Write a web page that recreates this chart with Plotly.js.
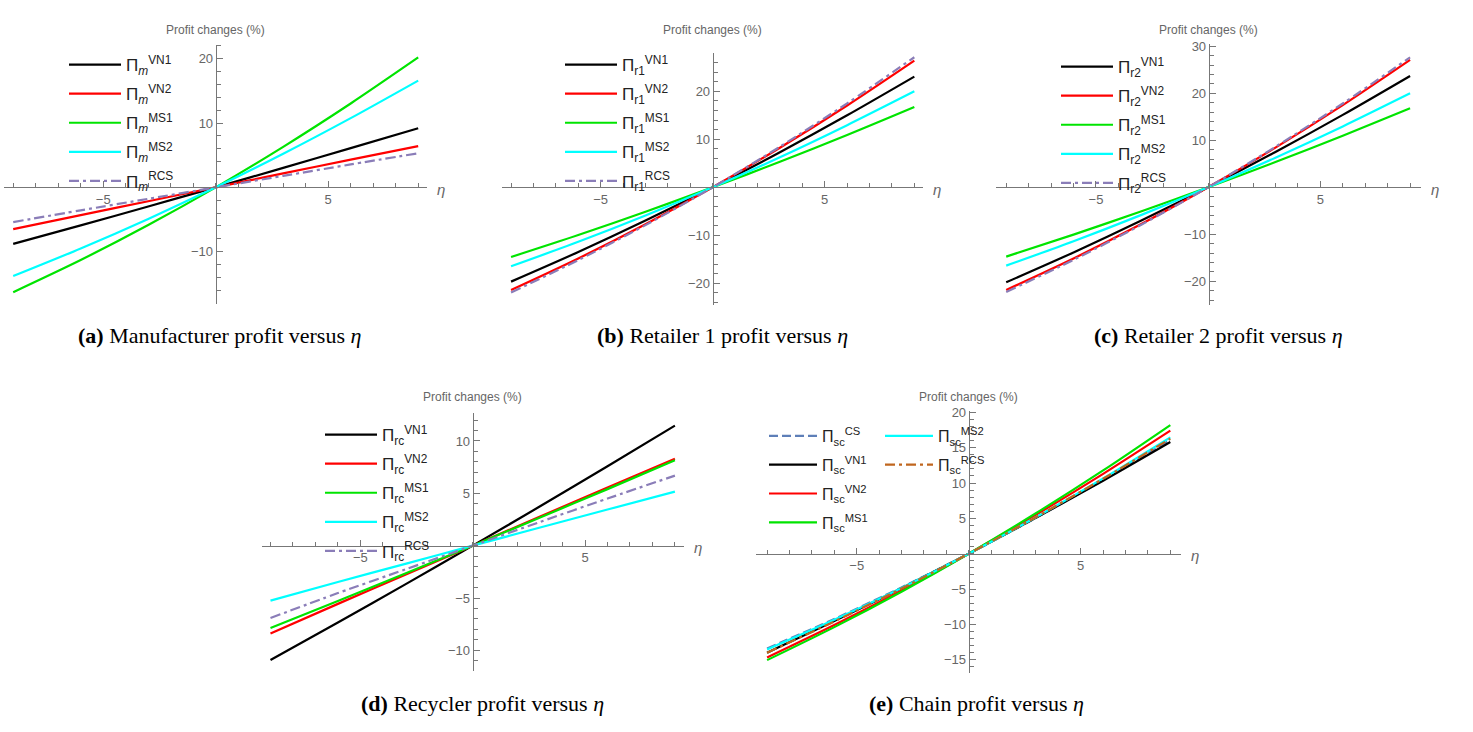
<!DOCTYPE html>
<html>
<head>
<meta charset="utf-8">
<script src="https://cdn.plot.ly/plotly-3.0.1.min.js"></script>
<style>html,body{margin:0;padding:0;background:#fff;}#chart{width:1473px;height:732px;}</style>
</head>
<body>
<div id="chart"></div>
<script>
// ---- data ----
const eta = [-9, -6, -3, 0, 3, 6, 9];

// (a) Manufacturer
const mVN1 = [-8.8, -5.92, -2.98, 0, 3.03, 6.1, 9.2];
const mVN2 = [-6.5, -4.33, -2.16, 0, 2.16, 4.3, 6.4];
const mMS1 = [-16.3, -11.3, -5.86, 0, 6.3, 13.04, 20.2];
const mMS2 = [-13.8, -9.51, -4.91, 0, 5.22, 10.76, 16.6];
const mRCS = [-5.4, -3.58, -1.79, 0, 1.78, 3.56, 5.3];

// (b) Retailer 1
const r1VN1 = [-19.65, -13.48, -6.93, 0, 7.31, 15.0, 23.06];
const r1VN2 = [-21.4, -14.83, -7.69, 0, 8.25, 17.05, 26.4];
const r1MS1 = [-14.51, -9.93, -5.09, 0, 5.33, 10.91, 16.74];
const r1MS2 = [-16.46, -11.36, -5.88, 0, 6.27, 12.95, 20.0];
const r1RCS = [-21.9, -15.17, -7.88, 0, 8.46, 17.49, 27.1];

// (c) Retailer 2
const r2VN1 = [-20.21, -13.86, -7.13, 0, 7.51, 15.41, 23.69];
const r2VN2 = [-21.84, -15.14, -7.87, 0, 8.45, 17.48, 27.1];
const r2MS1 = [-14.75, -10.06, -5.15, 0, 5.37, 10.98, 16.81];
const r2MS2 = [-16.67, -11.48, -5.92, 0, 6.30, 12.96, 20.0];
const r2RCS = [-22.27, -15.44, -8.02, 0, 8.62, 17.84, 27.66];

// (d) Recycler
const rcVN1 = [-10.92, -7.34, -3.70, 0, 3.76, 7.58, 11.46];
const rcVN2 = [-8.38, -5.56, -2.78, 0, 2.78, 5.55, 8.31];
const rcMS1 = [-7.87, -5.28, -2.66, 0, 2.69, 5.40, 8.15];
const rcMS2 = [-5.25, -3.47, -1.74, 0, 1.73, 3.45, 5.16];
const rcRCS = [-6.91, -4.53, -2.27, 0, 2.27, 4.50, 6.69];

// (e) Chain
const scCS  = [-13.4, -9.23, -4.77, 0, 5.07, 10.44, 16.1];
const scVN1 = [-14.0, -9.53, -4.87, 0, 5.07, 10.33, 15.8];
const scVN2 = [-14.67, -10.08, -5.2, 0, 5.5, 11.3, 17.41];
const scMS1 = [-15.05, -10.38, -5.37, 0, 5.72, 11.78, 18.2];
const scMS2 = [-13.54, -9.35, -4.84, 0, 5.16, 10.65, 16.46];
const scRCS = [-14.0, -9.59, -4.92, 0, 5.17, 10.6, 16.27];

// tick labels
const xTicks = [-5, 5];
const yTicksA = [-10, 10, 20];
const yTicksB = [-20, -10, 10, 20];
const yTicksC = [-20, -10, 10, 20, 30];
const yTicksD = [-10, -5, 5, 10];
const yTicksE = [-15, -10, -5, 5, 10, 15, 20];

const captions = [
  '<b>(a)</b> Manufacturer profit versus <i>η</i>',
  '<b>(b)</b> Retailer 1 profit versus <i>η</i>',
  '<b>(c)</b> Retailer 2 profit versus <i>η</i>',
  '<b>(d)</b> Recycler profit versus <i>η</i>',
  '<b>(e)</b> Chain profit versus <i>η</i>'
];

// ---- styles ----
const W = 1473, H = 732;
const px = v => v / W, py = v => 1 - v / H;
const C = {
  black: '#000000', red: '#ff0000', green: '#00e400', cyan: '#00ffff',
  purple: '#8a7db8', blue: '#5e7fb8', brown: '#c0661e'
};
const DD = '10px,4px,3px,4px';
const LW = 2.2;
const axisCol = '#777';
const tickFont = {family: 'Liberation Sans, Arial, sans-serif', size: 13, color: '#666'};

function tr(y, name, color, dash, xa, ya, leg) {
  return {
    x: eta, y: y, type: 'scatter', mode: 'lines', name: name,
    line: {color: color, width: LW, dash: dash || 'solid', shape: 'spline', smoothing: 0.8},
    xaxis: xa, yaxis: ya, legend: leg, legendgroup: name + xa
  };
}
const P = (sub, sup) => 'Π<sub>' + sub + '</sub><sup>' + sup + '</sup>';

const traces = [
  tr(mVN1, P('<i>m</i>', 'VN1'), C.black, null, 'x', 'y', 'legend'),
  tr(mVN2, P('<i>m</i>', 'VN2'), C.red, null, 'x', 'y', 'legend'),
  tr(mMS1, P('<i>m</i>', 'MS1'), C.green, null, 'x', 'y', 'legend'),
  tr(mMS2, P('<i>m</i>', 'MS2'), C.cyan, null, 'x', 'y', 'legend'),
  tr(mRCS, P('<i>m</i>', 'RCS'), C.purple, DD, 'x', 'y', 'legend'),

  tr(r1VN1, P('r1', 'VN1'), C.black, null, 'x2', 'y2', 'legend2'),
  tr(r1VN2, P('r1', 'VN2'), C.red, null, 'x2', 'y2', 'legend2'),
  tr(r1MS1, P('r1', 'MS1'), C.green, null, 'x2', 'y2', 'legend2'),
  tr(r1MS2, P('r1', 'MS2'), C.cyan, null, 'x2', 'y2', 'legend2'),
  tr(r1RCS, P('r1', 'RCS'), C.purple, DD, 'x2', 'y2', 'legend2'),

  tr(r2VN1, P('r2', 'VN1'), C.black, null, 'x3', 'y3', 'legend3'),
  tr(r2VN2, P('r2', 'VN2'), C.red, null, 'x3', 'y3', 'legend3'),
  tr(r2MS1, P('r2', 'MS1'), C.green, null, 'x3', 'y3', 'legend3'),
  tr(r2MS2, P('r2', 'MS2'), C.cyan, null, 'x3', 'y3', 'legend3'),
  tr(r2RCS, P('r2', 'RCS'), C.purple, DD, 'x3', 'y3', 'legend3'),

  tr(rcVN1, P('rc', 'VN1'), C.black, null, 'x4', 'y4', 'legend4'),
  tr(rcVN2, P('rc', 'VN2'), C.red, null, 'x4', 'y4', 'legend4'),
  tr(rcMS1, P('rc', 'MS1'), C.green, null, 'x4', 'y4', 'legend4'),
  tr(rcMS2, P('rc', 'MS2'), C.cyan, null, 'x4', 'y4', 'legend4'),
  tr(rcRCS, P('rc', 'RCS'), C.purple, DD, 'x4', 'y4', 'legend4'),

  tr(scCS,  P('sc', 'CS'),  C.blue, '9px,4px', 'x5', 'y5', 'legend5'),
  tr(scVN1, P('sc', 'VN1'), C.black, null, 'x5', 'y5', 'legend5'),
  tr(scVN2, P('sc', 'VN2'), C.red, null, 'x5', 'y5', 'legend5'),
  tr(scMS1, P('sc', 'MS1'), C.green, null, 'x5', 'y5', 'legend5'),
  tr(scMS2, P('sc', 'MS2'), C.cyan, null, 'x5', 'y5', 'legend6'),
  tr(scRCS, P('sc', 'RCS'), C.brown, DD, 'x5', 'y5', 'legend6')
];

// panel geometry in pixels
const panels = [
  {x0: 4.2, x1: 427.2, xr: [-9.4, 9.4], yt: 44.6, yb: 303.7, yr: [-18.1, 22.2], ox: 215.7, oy: 187.3, yt_: yTicksA, ym: 2, lab: 30},
  {x0: 502.1, x1: 923.3, xr: [-9.4, 9.4], yt: 53.4, yb: 304.9, yr: [-24.5, 27.9], ox: 712.7, oy: 187.3, yt_: yTicksB, ym: 2, lab: 30},
  {x0: 996.1, x1: 1421.3, xr: [-9.45, 9.5], yt: 43.5, yb: 304.8, yr: [-25.0, 30.6], ox: 1208.7, oy: 187.3, yt_: yTicksC, ym: 2, lab: 30},
  {x0: 261.5, x1: 683.9, xr: [-9.4, 9.4], yt: 412.7, yb: 671.3, yr: [-12.0, 12.7], ox: 472.7, oy: 545.7, yt_: yTicksD, ym: 1, lab: 397},
  {x0: 756.1, x1: 1181.3, xr: [-9.49, 9.49], yt: 410.9, yb: 672.5, yr: [-16.8, 20.2], ox: 968.7, oy: 553.7, yt_: yTicksE, ym: 1, lab: 397}
];

const layout = {
  width: W, height: H,
  margin: {l: 0, r: 0, t: 0, b: 0},
  paper_bgcolor: '#fff', plot_bgcolor: 'rgba(0,0,0,0)',
  showlegend: true,
  annotations: [],
  font: {family: 'Liberation Sans, Arial, sans-serif'}
};

panels.forEach((p, i) => {
  const k = i === 0 ? '' : String(i + 1);
  layout['xaxis' + k] = {
    domain: [px(p.x0), px(p.x1)], range: p.xr, anchor: 'free', position: py(p.oy),
    showline: true, linecolor: axisCol, linewidth: 1, showgrid: false, zeroline: false,
    tickmode: 'array', tickvals: xTicks, ticks: 'inside', ticklen: 6, tickcolor: axisCol, tickwidth: 1,
    minor: {tickmode: 'linear', tick0: 0, dtick: 1, ticks: 'inside', ticklen: 4, tickcolor: axisCol, showgrid: false},
    tickfont: tickFont, fixedrange: true
  };
  layout['yaxis' + k] = {
    domain: [py(p.yb), py(p.yt)], range: p.yr, anchor: 'free', position: px(p.ox),
    showline: true, linecolor: axisCol, linewidth: 1, showgrid: false, zeroline: false,
    tickmode: 'array', tickvals: p.yt_, ticks: 'inside', ticklen: 6, tickcolor: axisCol, tickwidth: 1,
    minor: {tickmode: 'linear', tick0: 0, dtick: p.ym, ticks: 'inside', ticklen: 4, tickcolor: axisCol, showgrid: false},
    tickfont: tickFont, fixedrange: true
  };
  layout.annotations.push({
    xref: 'paper', yref: 'paper', x: px(p.ox), y: py(p.lab), xanchor: 'center', yanchor: 'middle',
    text: 'Profit changes (%)', showarrow: false, font: {size: 12, color: '#666'}
  });
  layout.annotations.push({
    xref: 'paper', yref: 'paper', x: px(p.x1 + 8), y: py(p.oy + 2), xanchor: 'left', yanchor: 'middle',
    text: '<i>η</i>', showarrow: false, font: {size: 15, color: '#666'}
  });
});

// captions
const capPos = [[219, 335], [722, 335], [1218, 335], [482, 703], [977, 703]];
captions.forEach((t, i) => {
  layout.annotations.push({
    xref: 'paper', yref: 'paper', x: px(capPos[i][0]), y: py(capPos[i][1]), xanchor: 'center', yanchor: 'middle',
    text: t, showarrow: false, font: {family: 'Liberation Serif, Times New Roman, serif', size: 22, color: '#000'}
  });
});

// legends
function leg(xpx, ypx, fs, iw) {
  return {
    x: px(xpx), y: py(ypx), xanchor: 'left', yanchor: 'top', bgcolor: 'rgba(0,0,0,0)',
    borderwidth: 0, font: {size: fs || 17, color: '#222'}, itemwidth: iw || 52, tracegroupgap: 4,
    orientation: 'v', itemclick: false, itemdoubleclick: false
  };
}
layout.legend = leg(64, 47);
layout.legend2 = leg(560, 47);
layout.legend3 = leg(1056, 49);
layout.legend4 = leg(320, 417);
layout.legend5 = leg(764, 419, 16, 48);
layout.legend6 = leg(880, 419, 16, 48);
layout.legend6.tracegroupgap = 5;
layout.legend5.tracegroupgap = 5;

Plotly.newPlot('chart', traces, layout, {displayModeBar: false, staticPlot: true});
</script>
</body>
</html>
